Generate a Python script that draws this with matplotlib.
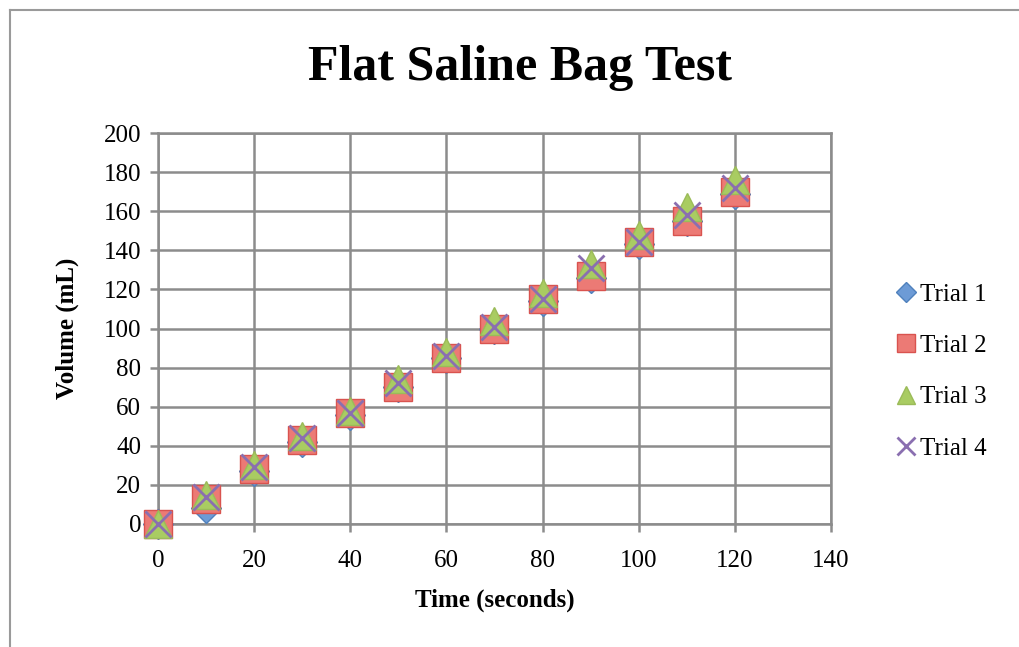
import matplotlib.pyplot as plt
from matplotlib.lines import Line2D

time_s = [0, 10, 20, 30, 40, 50, 60, 70, 80, 90, 100, 110, 120]
trial1 = [0, 8, 27, 42, 56, 70, 85, 100, 114, 126, 143, 155, 169]
trial2 = [0, 13, 28, 43, 57, 70, 85, 100, 115, 127, 144, 155, 170]
trial3 = [0, 15, 30, 45, 58, 74, 88, 104, 118, 133, 148, 162, 176]
trial4 = [0, 14, 29, 44, 57, 72, 86, 101, 115, 131, 144, 158, 172]

plt.rcParams['font.family'] = ['Liberation Serif', 'DejaVu Serif']

fig = plt.figure(figsize=(10.19, 6.47), dpi=100)
ax = fig.add_axes([158 / 1019, 1 - 524 / 647, (831 - 158) / 1019, (524 - 133) / 647])

# outer chart border (left and top visible)
fig.add_artist(Line2D([10 / 1019, 10 / 1019], [0, 1 - 10 / 647], transform=fig.transFigure, color='#9a9a9a', lw=1.5))
fig.add_artist(Line2D([10 / 1019, 1], [1 - 10 / 647, 1 - 10 / 647], transform=fig.transFigure, color='#9a9a9a', lw=1.5))

ms = 20
ax.plot(time_s, trial1, ls='none', marker='D', ms=ms * 0.75, mfc='#6d9bd6', mec='#4f81bd', mew=1, label='Trial 1', zorder=3, clip_on=False)
ax.plot(time_s, trial2, ls='none', marker='s', ms=ms, mfc='#ec7a75', mec='#d9534f', mew=1, label='Trial 2', zorder=4, clip_on=False)
ax.plot(time_s, trial3, ls='none', marker='^', ms=ms, mfc='#a9cc62', mec='#9bbb59', mew=1, label='Trial 3', zorder=5, clip_on=False)
ax.plot(time_s, trial4, ls='none', marker='x', ms=ms * 0.95, mec='#8a6fb0', mew=2, label='Trial 4', zorder=6, clip_on=False)

ax.set_xlim(0, 140)
ax.set_ylim(0, 200)
ax.set_xticks(range(0, 141, 20))
ax.set_yticks(range(0, 201, 20))
ax.grid(True, color='#8c8c8c', lw=1.8)
ax.set_axisbelow(True)
for s in ax.spines.values():
    s.set_color('#8c8c8c')
    s.set_linewidth(1.8)
ax.tick_params(direction='out', length=6, width=1.8, color='#8c8c8c', labelsize=18)
ax.tick_params(axis='x', pad=13)
ax.tick_params(axis='y', pad=6)

ax.set_xlabel('Time (seconds)', fontsize=18, fontweight='bold', labelpad=12)
ax.set_ylabel('Volume (mL)', fontsize=18, fontweight='bold', labelpad=18)
fig.text(520 / 1019, 1 - 68 / 647, 'Flat Saline Bag Test', ha='center', va='center', fontsize=36, fontweight='bold')

ax.legend(loc='center left', bbox_to_anchor=(1.06, 0.39), frameon=False, fontsize=18,
          markerscale=0.65, handletextpad=0.05, labelspacing=1.15, handlelength=1.0)

fig.savefig('out.png', dpi=100)
